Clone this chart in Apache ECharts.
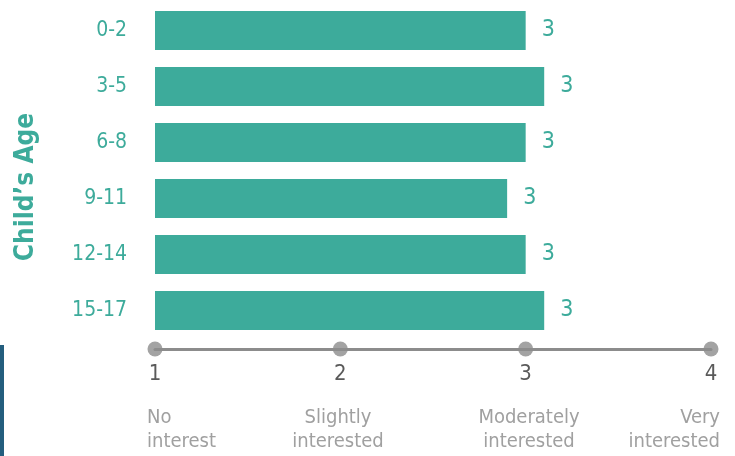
<!DOCTYPE html>
<html>
<head>
<meta charset="utf-8">
<script src="https://cdn.jsdelivr.net/npm/echarts@6/dist/echarts.min.js"></script>
<style>
  html, body { margin: 0; padding: 0; background: #fff; }
  #chart { width: 735px; height: 456px; }
</style>
</head>
<body>
<div id="chart"></div>
<script>
// child age groups and mean interest score
const ageGroups = ['0-2', '3-5', '6-8', '9-11', '12-14', '15-17'];
const interest = [3.0, 3.1, 3.0, 2.9, 3.0, 3.1];
const scaleTicks = [1, 2, 3, 4];
const scaleLabels = ['No\ninterest', 'Slightly\ninterested', 'Moderately\ninterested', 'Very\ninterested'];

const teal = '#3dab9b';
const grey = '#8c8c8c';
const font = '"DejaVu Sans Condensed", "Roboto", sans-serif';

const chart = echarts.init(document.getElementById('chart'));

chart.setOption({
  animation: false,
  grid: [
    { left: 155, right: 24, top: 2.5, height: 336 },
    { left: 155, right: 24, top: 348, height: 1 },
    // description row sits a little wider than the scale
    { left: 147, right: 15, top: 348, height: 1 }
  ],
  xAxis: [
    { gridIndex: 0, type: 'value', min: 1, max: 4, show: false },
    {
      gridIndex: 1, type: 'value', min: 1, max: 4, interval: 1,
      axisLine: { lineStyle: { color: grey, width: 3 } },
      axisTick: { show: false },
      splitLine: { show: false },
      axisLabel: { color: '#5a5a5a', fontSize: 22, fontFamily: font, margin: 14 }
    },
    {
      gridIndex: 2, type: 'value', min: 1, max: 4, interval: 1,
      axisLine: { show: false },
      axisTick: { show: false },
      splitLine: { show: false },
      axisLabel: {
        color: '#a0a0a0', fontSize: 20, lineHeight: 24, fontFamily: font, margin: 57,
        alignMinLabel: 'left', alignMaxLabel: 'right',
        formatter: v => scaleLabels[scaleTicks.indexOf(v)] || ''
      }
    }
  ],
  yAxis: [
    {
      gridIndex: 0, type: 'category', data: ageGroups, inverse: true,
      axisLine: { show: false },
      axisTick: { show: false },
      axisLabel: { color: teal, fontSize: 21, fontFamily: font, margin: 28 }
    },
    { gridIndex: 1, type: 'value', min: 0, max: 1, show: false },
    { gridIndex: 2, type: 'value', min: 0, max: 1, show: false }
  ],
  graphic: [
    {
      type: 'text', x: 26, y: 187, rotation: Math.PI / 2,
      style: {
        text: 'Child’s Age', fill: teal, fontSize: 26, fontWeight: 'bold',
        fontFamily: font, align: 'center', verticalAlign: 'middle'
      }
    },
    {
      type: 'rect', shape: { x: 0, y: 345, width: 4, height: 111 },
      style: { fill: '#245e7e' }
    }
  ],
  series: [
    {
      type: 'bar', xAxisIndex: 0, yAxisIndex: 0,
      data: interest,
      barCategoryGap: '30%',
      itemStyle: { color: teal },
      label: {
        show: true, position: 'right', distance: 16,
        color: teal, fontSize: 23, fontFamily: font,
        formatter: p => Math.round(p.value)
      }
    },
    {
      type: 'scatter', xAxisIndex: 1, yAxisIndex: 1,
      data: scaleTicks.map(t => [t, 0]),
      symbolSize: 15,
      clip: false,
      itemStyle: { color: grey }
    }
  ]
});
</script>
</body>
</html>
